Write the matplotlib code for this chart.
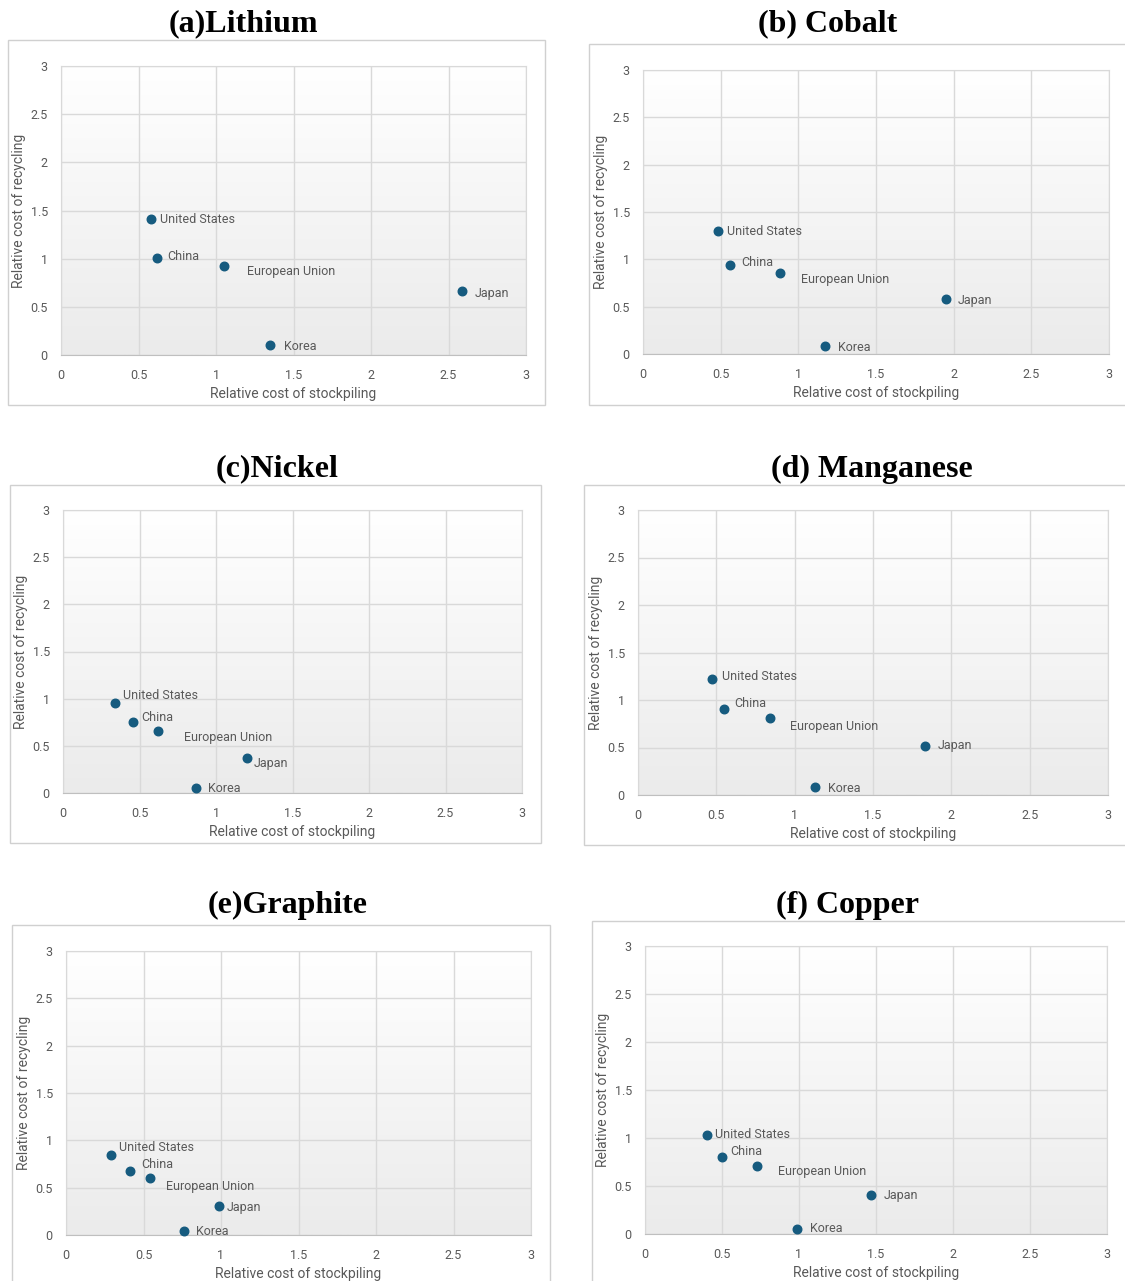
import matplotlib.pyplot as plt
import numpy as np
from matplotlib.patches import Rectangle
from matplotlib.colors import LinearSegmentedColormap

countries = ["United States", "China", "European Union", "Japan", "Korea"]

titles = ["(a)Lithium", "(b) Cobalt", "(c)Nickel", "(d) Manganese", "(e)Graphite", "(f) Copper"]

# relative cost of stockpiling (x) and recycling (y), per mineral
lithium_x = [0.58, 0.62, 1.05, 2.59, 1.35]
lithium_y = [1.41, 1.01, 0.92, 0.66, 0.10]
cobalt_x = [0.48, 0.56, 0.88, 1.95, 1.17]
cobalt_y = [1.30, 0.94, 0.86, 0.58, 0.08]
nickel_x = [0.34, 0.46, 0.62, 1.20, 0.87]
nickel_y = [0.95, 0.75, 0.66, 0.37, 0.05]
manganese_x = [0.47, 0.55, 0.84, 1.83, 1.13]
manganese_y = [1.22, 0.91, 0.81, 0.52, 0.08]
graphite_x = [0.29, 0.41, 0.54, 0.99, 0.76]
graphite_y = [0.84, 0.68, 0.60, 0.31, 0.04]
copper_x = [0.40, 0.50, 0.73, 1.47, 0.99]
copper_y = [1.03, 0.80, 0.71, 0.41, 0.05]

xs = [lithium_x, cobalt_x, nickel_x, manganese_x, graphite_x, copper_x]
ys = [lithium_y, cobalt_y, nickel_y, manganese_y, graphite_y, copper_y]

ticks = [0, 0.5, 1, 1.5, 2, 2.5, 3]
tick_labels = ["0", "0.5", "1", "1.5", "2", "2.5", "3"]

W, H = 1125, 1281
fig = plt.figure(figsize=(W / 100, H / 100), dpi=100)

# layout in pixels: plot area (l, t, r, b), frame (l, t, r, b), title centre (x, y)
plots = [(61, 66, 526, 355), (643, 70, 1109, 354), (63, 510, 522, 793),
         (638, 510, 1108, 795), (66, 951, 531, 1235), (645, 946, 1107, 1234)]
frames = [(8, 40, 545, 405), (589, 44, 1135, 405), (10, 485, 541, 843),
          (584, 485, 1135, 845), (12, 925, 550, 1295), (592, 921, 1135, 1295)]
title_pos = [(243, 24), (828, 24), (277, 469), (872, 469), (288, 905), (848, 905)]

# label offsets in pixels (dx, dy up)
offsets = [
    [(9, 0), (10, 1), (23, -5), (12, -2), (14, -1)],
    [(9, -1), (11, 3), (21, -7), (12, -1), (13, -1)],
    [(8, 8), (8, 5), (26, -7), (7, -5), (12, 0)],
    [(10, 3), (10, 5), (20, -8), (13, 0), (13, -1)],
    [(8, 8), (12, 6), (16, -8), (7, -2), (12, 0)],
    [(8, 1), (8, 6), (21, -6), (12, -1), (13, 1)],
]

dot = "#165b7f"
grey = "#595959"
font = "Roboto"

grad = np.linspace(1, 0, 256).reshape(-1, 1)
cmap = LinearSegmentedColormap.from_list("g", ["#ebebeb", "#ffffff"])

for i in range(6):
    fl, ft, fr, fb = frames[i]
    fig.patches.append(Rectangle((fl / W, 1 - fb / H), (fr - fl) / W, (fb - ft) / H,
                                 transform=fig.transFigure, facecolor="white",
                                 edgecolor="#d0d0d0", linewidth=1.0, zorder=-5))
    l, t, r, b = plots[i]
    ax = fig.add_axes([l / W, 1 - b / H, (r - l) / W, (b - t) / H], zorder=2)
    ax.patch.set_alpha(0)
    ax.imshow(grad, extent=[0, 1, 0, 1], transform=ax.transAxes, aspect="auto",
              cmap=cmap, vmin=0, vmax=1, zorder=0)
    ax.set_xlim(0, 3)
    ax.set_ylim(0, 3)
    ax.set_xticks(ticks)
    ax.set_yticks(ticks)
    ax.set_xticklabels(tick_labels, fontsize=9, color=grey, family=font)
    ax.set_yticklabels(tick_labels, fontsize=9, color=grey, family=font)
    ax.tick_params(axis="x", length=0, pad=10)
    ax.tick_params(axis="y", length=0, pad=9.5)
    ax.grid(True, color="#d9d9d9", linewidth=1.0, zorder=1)
    for s in ax.spines.values():
        s.set_color("#d9d9d9")
    ax.spines["bottom"].set_color("#bfbfbf")
    ax.set_xlabel("Relative cost of stockpiling", fontsize=10, color=grey, family=font, labelpad=4)
    ax.set_ylabel("Relative cost of recycling", fontsize=10, color=grey, family=font, labelpad=3)
    ax.scatter(xs[i], ys[i], s=38, color=dot, zorder=3, clip_on=False)
    for j, c in enumerate(countries):
        dx, dy = offsets[i][j]
        ax.annotate(c, (xs[i][j], ys[i][j]), xytext=(dx, dy), textcoords="offset pixels",
                    ha="left", va="center", fontsize=9, color=grey, family=font, zorder=4)
    tx, ty = title_pos[i]
    fig.text(tx / W, 1 - ty / H, titles[i], ha="center", va="center", fontsize=23,
             fontweight="bold", family="Liberation Serif")

fig.savefig("out.png", dpi=100, facecolor="white")
